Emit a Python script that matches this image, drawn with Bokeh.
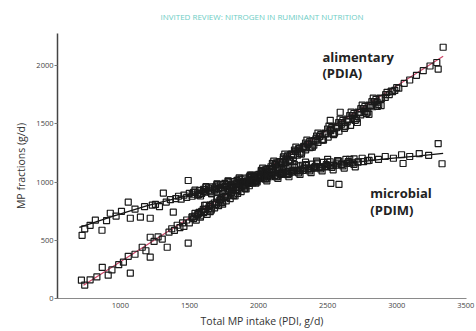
from bokeh.plotting import figure
from bokeh.models import Range1d, Label, FixedTicker
from bokeh.embed import file_html
from bokeh.resources import INLINE

# ---- data ----
title_text = "INVITED REVIEW: NITROGEN IN RUMINANT NUTRITION"
x_ticks = [1000, 1500, 2000, 2500, 3000, 3500]
y_ticks = [0, 500, 1000, 1500, 2000]

alim_x = [718, 742, 781, 830, 869, 912, 939, 988, 1022, 1057, 1072, 1106, 1158, 1185, 1216, 1216,
          1244, 1273, 1303, 1339, 1352, 1372, 1391, 1411, 1431, 1450, 1460, 1480, 1491, 1499, 1519,
          1539, 1549, 1564, 1579, 1589, 1603, 1618, 1628, 1643, 1657, 1667, 1682, 1697, 1711, 1726,
          1736, 1751, 1766, 1780, 1795, 1805, 1820, 1834, 1849, 1864, 1874, 1889, 1903, 1918, 1933,
          1943, 1958, 1972, 1987, 2002, 2017, 2031, 2046, 2061, 2076, 2090, 2105, 2120, 2135, 2149,
          2164, 2179, 2194, 2208, 2223, 2238, 2253, 2268, 2282, 2297, 2312, 2327, 2341, 2356, 2371,
          2386, 2400, 2415, 2430, 2445, 2464, 2484, 2504, 2519, 2523, 2543, 2563, 2582, 2591, 2602,
          2622, 2641, 2666, 2691, 2715, 2740, 2769, 2799, 2828, 2858, 2887, 2917, 2946, 2986, 3015,
          3054, 3094, 3143, 3192, 3241, 3290, 3300, 3336,
          1610, 1650, 1700, 1740, 1790, 1830, 1870, 1910, 1950, 1990, 2030, 2070, 2110, 2150, 2190,
          2230, 2270, 2310, 2350, 2390, 2430, 2470, 2510, 2550, 2590, 2630, 2670, 2710, 2750, 2790,
          2830, 2870,
          1520, 1560, 1600, 1640, 1680, 1720, 1760, 1800, 1840, 1880, 1920, 1960, 2000, 2040, 2080,
          2120, 2160, 2200, 2240, 2280, 2320, 2360, 2400, 2440, 2480, 2520, 2560, 2600, 2640, 2680,
          2720, 2760, 2800, 2840, 2880, 2920, 2960, 3000,
          1540, 1580, 1620, 1660, 1700, 1740, 1780, 1820, 1860, 1900, 1940, 1980, 2020, 2060, 2100,
          2140, 2180, 2220, 2260, 2300, 2340, 2380, 2420, 2460, 2500, 2540, 2580, 2620, 2660, 2700,
          2740, 2780, 2820, 2860,
          1530, 1570, 1610, 1650, 1690, 1730, 1770, 1810, 1850, 1890, 1930, 1970, 2010, 2050, 2090,
          2130, 2170, 2210, 2250, 2290, 2330, 2370, 2410, 2450, 2490, 2530, 2570, 2610, 2650, 2690,
          2730, 2770, 2810, 2850, 2890, 2930, 2970]
alim_y = [157, 115, 160, 185, 268, 200, 245, 290, 312, 362, 217, 380, 440, 410, 526, 355,
          490, 529, 510, 440, 569, 599, 584, 629, 609, 649, 619, 674, 475, 649, 698,
          708, 673, 728, 698, 748, 738, 768, 723, 788, 758, 808, 778, 828, 798, 848,
          823, 868, 838, 888, 858, 908, 883, 928, 903, 953, 918, 973, 943, 998, 968,
          1016, 993, 1041, 1011, 1066, 1036, 1086, 1056, 1111, 1081, 1131, 1106, 1151, 1126, 1176,
          1146, 1196, 1166, 1221, 1191, 1241, 1211, 1266, 1231, 1286, 1256, 1306, 1276, 1326, 1296,
          1351, 1316, 1371, 1341, 1391, 1366, 1416, 1386, 1530, 1441, 1406, 1466, 1436, 1599, 1496,
          1461, 1516, 1486, 1546, 1511, 1576, 1606, 1581, 1646, 1686, 1656, 1726, 1751, 1786, 1806,
          1846, 1876, 1916, 1956, 1996, 2026, 1970, 2157,
          800, 745, 870, 810, 940, 880, 1000, 940, 1060, 1000, 1120, 1060, 1180, 1120, 1240,
          1180, 1300, 1240, 1360, 1300, 1420, 1360, 1480, 1420, 1540, 1480, 1600, 1545, 1660, 1600,
          1720, 1665,
          700, 720, 765, 775, 820, 845, 875, 905, 935, 965, 995, 1025, 1050, 1085, 1115,
          1145, 1175, 1205, 1235, 1265, 1295, 1325, 1355, 1390, 1420, 1450, 1480, 1510, 1540, 1570,
          1600, 1630, 1660, 1690, 1720, 1750, 1780, 1810,
          730, 710, 800, 770, 860, 830, 920, 890, 980, 950, 1040, 1010, 1100, 1065, 1160,
          1125, 1215, 1185, 1275, 1245, 1335, 1300, 1395, 1360, 1455, 1415, 1510, 1475, 1570, 1530,
          1630, 1590, 1690, 1650,
          686, 740, 747, 801, 807, 862, 868, 922, 928, 983, 989, 1043, 1050, 1104, 1110,
          1164, 1171, 1225, 1231, 1286, 1292, 1346, 1352, 1407, 1413, 1467, 1473, 1528, 1534, 1588,
          1595, 1649, 1655, 1709, 1716, 1770, 1776]

micro_x = [723, 742, 781, 819, 867, 900, 927, 969, 1008, 1057, 1072, 1106, 1145, 1175, 1216, 1231,
           1254, 1283, 1311, 1332, 1362, 1383, 1401, 1421, 1440, 1460, 1480, 1491, 1499, 1519, 1539,
           1559, 1573, 1589, 1603, 1618, 1638, 1652, 1667, 1682, 1697, 1711, 1726, 1741, 1756, 1770,
           1785, 1800, 1815, 1829, 1844, 1859, 1874, 1889, 1903, 1918, 1933, 1948, 1962, 1977, 1992,
           2007, 2021, 2036, 2051, 2066, 2081, 2095, 2110, 2125, 2140, 2154, 2169, 2184, 2199, 2213,
           2228, 2243, 2258, 2272, 2287, 2302, 2317, 2331, 2346, 2366, 2386, 2405, 2425, 2445, 2469,
           2494, 2518, 2523, 2543, 2572, 2582, 2602, 2632, 2661, 2691, 2720, 2750, 2789, 2818, 2868,
           2917, 2976, 3035, 3046, 3094, 3163, 3231, 3300, 3328,
           1620, 1660, 1700, 1740, 1780, 1820, 1860, 1900, 1940, 1980, 2020, 2060, 2100, 2140, 2180,
           2220, 2260, 2300, 2340, 2380, 2420, 2460, 2500, 2540,
           1520, 1560, 1600, 1640, 1680, 1720, 1760, 1800, 1840, 1880, 1920, 1960, 2000, 2040, 2080,
           2120, 2160, 2200, 2240, 2280, 2320, 2360, 2400, 2440, 2480, 2520, 2560, 2600, 2640, 2680,
           2720, 2760, 2800,
           1540, 1580, 1620, 1660, 1700, 1740, 1780, 1820, 1860, 1900, 1940, 1980, 2020, 2060, 2100,
           2140, 2180, 2220, 2260, 2300, 2340, 2380, 2420, 2460, 2500, 2540, 2580, 2620, 2660, 2700,
           1530, 1570, 1610, 1650, 1690, 1730, 1770, 1810, 1850, 1890, 1930, 1970, 2010, 2050, 2090,
           2130, 2170, 2210, 2250, 2290, 2330, 2370, 2410, 2450, 2490, 2530, 2570, 2610, 2650, 2690]
micro_y = [542, 598, 628, 672, 586, 668, 732, 708, 748, 827, 689, 768, 698, 788, 689, 801,
           808, 788, 905, 828, 848, 741, 858, 878, 853, 888, 868, 1013, 903, 878, 913,
           888, 928, 903, 938, 913, 948, 923, 958, 933, 968, 943, 978, 953, 988, 963,
           998, 973, 1004, 983, 1014, 993, 1024, 1003, 1034, 1004, 1044, 1009, 1049, 1019, 1059,
           1029, 1069, 1044, 1079, 1049, 1089, 1059, 1094, 1069, 1104, 1074, 1109, 1084, 1119, 1089,
           1124, 1094, 1129, 1099, 1139, 1104, 1144, 1114, 1149, 1119, 1154, 1124, 1164, 1129, 1169,
           1134, 1174, 989, 1144, 1184, 979, 1154, 1194, 1164, 1199, 1174, 1204, 1184, 1214, 1194,
           1219, 1204, 1234, 1159, 1219, 1244, 1229, 1330, 1157,
           960, 900, 985, 925, 1010, 950, 1035, 975, 1060, 1000, 1090, 1030, 1110, 1050, 1130,
           1075, 1150, 1095, 1170, 1115, 1180, 1130, 1195, 1140,
           895, 905, 920, 930, 940, 950, 965, 975, 985, 995, 1005, 1020, 1030, 1035, 1045,
           1055, 1065, 1075, 1085, 1095, 1100, 1110, 1120, 1125, 1130, 1140, 1145, 1150, 1160, 1165,
           1170, 1175, 1185,
           930, 880, 955, 900, 980, 920, 1005, 945, 1025, 965, 1050, 990, 1070, 1010, 1090,
           1030, 1105, 1045, 1125, 1065, 1140, 1080, 1155, 1095, 1170, 1105, 1180, 1120, 1195, 1130,
           911, 893, 934, 916, 958, 939, 980, 961, 1002, 983, 1024, 1004, 1044, 1024, 1064,
           1044, 1084, 1063, 1101, 1079, 1118, 1096, 1135, 1112, 1149, 1126, 1162, 1139, 1176, 1152]

alim_fit_x = [733, 3336]
alim_fit_y = [113, 2080]
micro_fit_x = [703, 949, 1195, 1441, 1687, 1933, 2179, 2425, 2671, 2917, 3163, 3336]
micro_fit_y = [611, 708, 798, 870, 942, 1010, 1071, 1123, 1164, 1198, 1225, 1246]

FONT = "Open Sans"

p = figure(width=476, height=331, output_backend="svg", toolbar_location=None,
           x_range=Range1d(545, 3505), y_range=Range1d(0, 2275),
           min_border_left=57, min_border_right=10, min_border_top=33, min_border_bottom=33,
           background_fill_color="white", border_fill_color="white")
p.outline_line_color = None
p.grid.visible = False

# title
p.title.text = title_text
p.title.text_font = FONT
p.title.text_font_size = "8px"
p.title.text_font_style = "normal"
p.title.text_color = "#6ccdc4"
p.title.align = "center"
p.title.vertical_align = "top"
p.title.offset = -16
p.title.standoff = 19

# axes
p.xaxis.ticker = FixedTicker(ticks=x_ticks)
p.yaxis.ticker = FixedTicker(ticks=y_ticks)
p.xaxis.axis_label = "Total MP intake (PDI, g/d)"
p.yaxis.axis_label = "MP fractions (g/d)"
for ax in (p.xaxis[0], p.yaxis[0]):
    ax.minor_tick_line_color = None
    ax.major_label_text_font = FONT
    ax.major_label_text_color = "#444444"
    ax.major_label_text_font_size = "7.5px"
    ax.axis_label_text_font = FONT
    ax.axis_label_text_font_style = "normal"
    ax.axis_label_text_color = "#333333"
    ax.axis_label_text_font_size = "10.5px"
p.xaxis.axis_line_color = "#8a8a8a"
p.xaxis.axis_line_width = 1.2
p.xaxis.major_tick_line_color = None
p.xaxis.major_tick_out = 0
p.xaxis.major_tick_in = 0
p.xaxis.major_label_standoff = 4
p.xaxis.axis_label_standoff = 3
p.yaxis.axis_line_color = "#444444"
p.yaxis.axis_line_width = 1.5
p.yaxis.major_tick_out = 3
p.yaxis.major_tick_in = 0
p.yaxis.major_tick_line_color = "#777777"
p.yaxis.major_label_standoff = 1
p.yaxis.axis_label_standoff = 5

# fitted lines
p.line(alim_fit_x, alim_fit_y, line_color="#cc4466", line_width=1.2)
p.line(micro_fit_x, micro_fit_y, line_color="#111111", line_width=1.3)

# points (open squares)
p.scatter(alim_x, alim_y, marker="square", size=6, fill_alpha=0,
          line_color="#1a1a1a", line_width=1.2)
p.scatter(micro_x, micro_y, marker="square", size=6, fill_alpha=0,
          line_color="#1a1a1a", line_width=1.2)

# annotations
def add_label(x, y, txt):
    p.add_layout(Label(x=x, y=y, text=txt, text_font=FONT, text_font_size="13px",
                       text_font_style="bold", text_color="#222222", text_align="left",
                       text_baseline="middle"))

add_label(2462, 2069, "alimentary")
add_label(2462, 1932, "(PDIA)")
add_label(2809, 910, "microbial")
add_label(2809, 757, "(PDIM)")

open("out.html", "w").write(file_html(p, INLINE))
